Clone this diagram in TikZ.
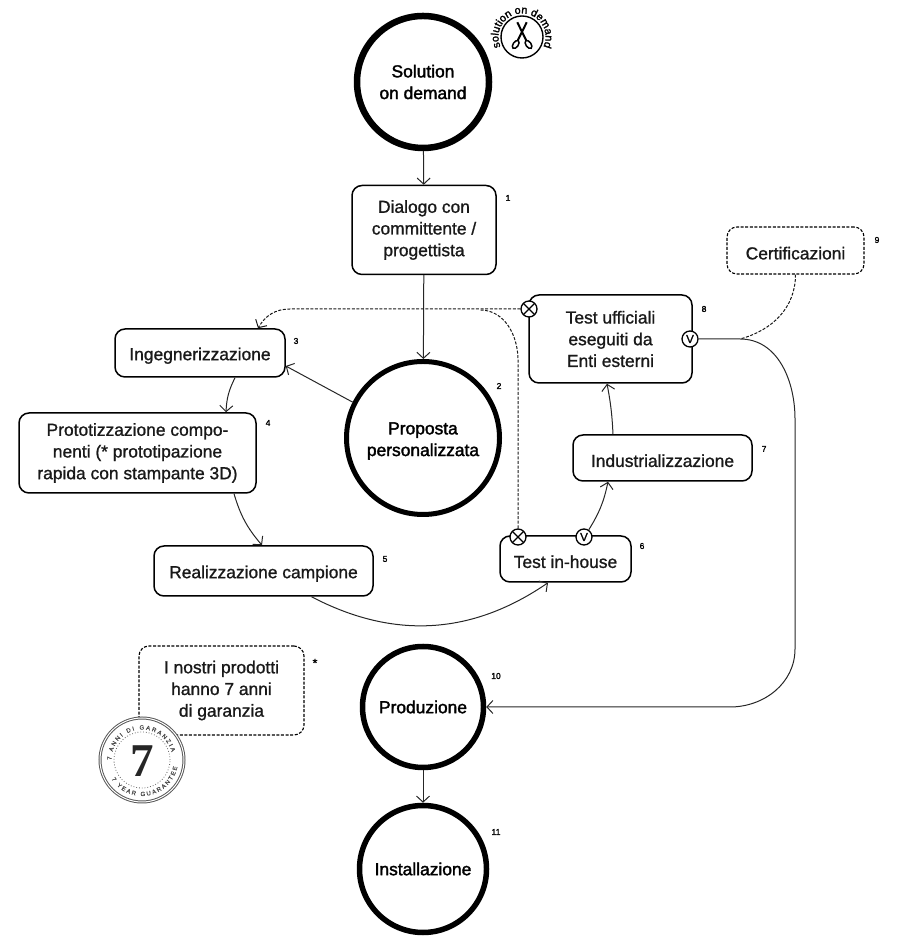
\documentclass[tikz,border=0pt]{standalone}
\usepackage{fontspec}
\setmainfont{Liberation Sans}[FakeBold=1.1]
\newfontfamily\bolderfont{Liberation Sans}[FakeBold=1.9]
\newfontfamily\sevenfont{Liberation Serif}
\usetikzlibrary{arrows.meta,decorations.text}
\tikzset{
  arw/.style={-{Straight Barb[length=6pt,width=13pt]},line width=1pt,black!85},
  dsh/.style={line width=1pt,black!90,dash pattern=on 3pt off 1.6pt},
  txt/.style={font=\fontsize{17.4}{21.7}\selectfont,align=center,text=black!90},
  boxx/.style={txt,draw,rectangle,rounded corners=10pt,line width=1.5pt,inner sep=0pt,execute at begin node={\rule{0pt}{18pt}}},
  dbox/.style={boxx,line width=1.1pt,dash pattern=on 3pt off 1.6pt},
  ring/.style={circle,draw,fill=white,align=center,inner sep=0pt,font=\bolderfont\fontsize{17.4}{21.7}\selectfont},
  num/.style={font=\bolderfont\fontsize{8.5}{9}\selectfont,inner sep=0pt},
  mrk/.style={circle,draw,fill=white,minimum size=16pt,inner sep=0pt,line width=1.3pt},
  xmrk/.style={mrk,path picture={\draw[line width=1.1pt] (path picture bounding box.north west)--(path picture bounding box.south east)
    (path picture bounding box.north east)--(path picture bounding box.south west);}},
  vmrk/.style={mrk,font=\fontsize{11.5}{11.5}\selectfont},
}
\begin{document}
\begin{tikzpicture}[x=1pt,y=1pt]
\useasboundingbox (0,0) rectangle (903,949);
% circles
\node[ring,line width=6.5pt,minimum size=132pt] (solution) at (423,867) {Solution\\on demand};
\node[ring,line width=5pt,minimum size=153pt] (proposta) at (423,511) {\rule{0pt}{18pt}Proposta\\personalizzata};
\node[ring,line width=5.5pt,minimum size=121pt] (produzione) at (423,242) {Produzione};
\node[ring,line width=5.5pt,minimum size=127pt] (installazione) at (423,80) {Installazione};
% boxes
\node[boxx,minimum width=144pt,minimum height=89pt] (dialogo) at (424,719) {Dialogo con\\committente /\\progettista};
\node[boxx,minimum width=170pt,minimum height=48pt] (ingegn) at (200,596) {Ingegnerizzazione};
\node[boxx,minimum width=237pt,minimum height=80pt] (prototipo) at (137.5,496) {Prototizzazione compo-\\nenti (* prototipazione\\rapida con stampante 3D)};
\node[boxx,minimum width=219pt,minimum height=50pt] (campione) at (263.5,378) {Realizzazione campione};
\node[boxx,minimum width=131pt,minimum height=46pt] (inhouse) at (565.5,390) {Test in-house};
\node[boxx,minimum width=179pt,minimum height=46pt] (industria) at (662.5,491) {Industrializzazione};
\node[boxx,minimum width=163pt,minimum height=88pt] (ufficiali) at (610.5,610) {Test ufficiali\\eseguiti da\\Enti esterni};
\node[dbox,minimum width=137pt,minimum height=47pt] (certif) at (795.5,698.5) {Certificazioni};
\node[dbox,minimum width=165pt,minimum height=89pt] (nota) at (221.5,258.5) {I nostri prodotti\\hanno 7 anni\\di garanzia};
% numbers
\node[num] (n1) at (508,751) {1};
\node[num] (n2) at (499,563) {2};
\node[num] (n3) at (296,608) {3};
\node[num] (n4) at (268,526) {4};
\node[num] (n5) at (385,390) {5};
\node[num] (n6) at (642,403) {6};
\node[num] (n7) at (764,500) {7};
\node[num] (n8) at (704,640) {8};
\node[num] (n9) at (877,709) {9};
\node[num] (n10) at (496,273) {10};
\node[num] (n11) at (496,117) {11};
\node[num,font=\bolderfont\fontsize{12}{12}\selectfont] (nstar) at (315,286) {*};
% connectors
\coordinate (bendup) at (740,610);
\coordinate (benddown) at (795,530);
\coordinate (bendlow) at (795,300);
\coordinate (bendend) at (730,242);
\coordinate (dashleft) at (290,640);
\coordinate (dashtop) at (480,639);
\coordinate (dashside) at (518,589);
\draw[arw] (solution) -- (dialogo);
\draw[arw] (dialogo) -- (proposta);
\draw[arw] (proposta.153) -- ([yshift=-13pt]ingegn.east);
\draw[arw] ([xshift=35pt]ingegn.south) to[bend right=12] ([xshift=88.5pt]prototipo.north);
\draw[arw] ([xshift=96.5pt]prototipo.south) to[bend right=12] ([xshift=-1.5pt]campione.north);
\draw[arw] ([xshift=48pt]campione.south) to[bend right=31] ([xshift=-17.5pt]inhouse.south);
\draw[arw] (produzione) -- (installazione);
% markers
\node[xmrk] (xuff) at (529,640) {};
\node[vmrk] (vuff) at (690,610) {V};
\node[xmrk] (xhouse) at (518,412) {};
\node[vmrk] (vhouse) at (584,412) {V};
\draw[arw] (vhouse) to[bend right=10] ([xshift=-54.5pt]industria.south);
\draw[arw] ([xshift=-49.5pt]industria.north) to[bend right=4] ([xshift=-3.5pt]ufficiali.south);
\draw[arw] (vuff) -- (bendup) to[out=0,in=90] (benddown) -- (bendlow) to[out=-90,in=0] (bendend) -- (produzione);
\draw[dsh] (certif.south) to[out=-90,in=15] (bendup);
\draw[dsh,-{Straight Barb[length=6pt,width=13pt]}] (xuff) -- (dashleft) to[out=180,in=60] ([xshift=58pt]ingegn.north);
\draw[dsh] (xhouse) -- (dashside) to[out=90,in=0] (dashtop);
% small stamp
\node[circle,draw,line width=1.4pt,minimum size=42pt] (stamp) at (522,912) {};
\draw[line width=2pt] ([shift={(-4.7,14.7)}]stamp.center) -- ([shift={(4.5,-4)}]stamp.center)
  ([shift={(4.7,14.7)}]stamp.center) -- ([shift={(-4.5,-4)}]stamp.center);
\draw[line width=1.5pt] ([shift={(-6.3,-7.5)}]stamp.center) circle[x radius=2.6pt,y radius=4.6pt,rotate=-35];
\draw[line width=1.5pt] ([shift={(6.5,-7.5)}]stamp.center) circle[x radius=2.6pt,y radius=4.6pt,rotate=35];
\path[decorate,decoration={text along path,text align=center,text={|\bolderfont\fontsize{10.8}{11}\selectfont|solution on demand}}]
  ([shift={(200:23.5)}]stamp.center) arc[start angle=200,end angle=-20,radius=23.5pt];
% badge
\node[circle,draw=black!65,fill=white,double=white,double distance=1pt,line width=1pt,minimum size=84pt] (badge) at (142,189) {};
\node[circle,draw=black!60,line width=0.8pt,dotted,minimum size=56pt] (badgein) at (142,189) {};
\node[font=\sevenfont\bfseries\fontsize{47}{47}\selectfont,text=black!85,inner sep=0pt] (seven) at (142,188) {7};
\path[decorate,decoration={text along path,text align=fit to path,text={|\fontsize{6}{6}\selectfont\color{black!70}|7 ANNI DI GARANZIA}}]
  ([shift={(180:30.5)}]badge.center) arc[start angle=180,end angle=15,radius=30.5pt];
\path[decorate,decoration={text along path,text align=fit to path,text={|\fontsize{6}{6}\selectfont\color{black!70}|7 YEAR GUARANTEE}}]
  ([shift={(212:36)}]badge.center) arc[start angle=212,end angle=349,radius=36pt];
\end{tikzpicture}
\end{document}
